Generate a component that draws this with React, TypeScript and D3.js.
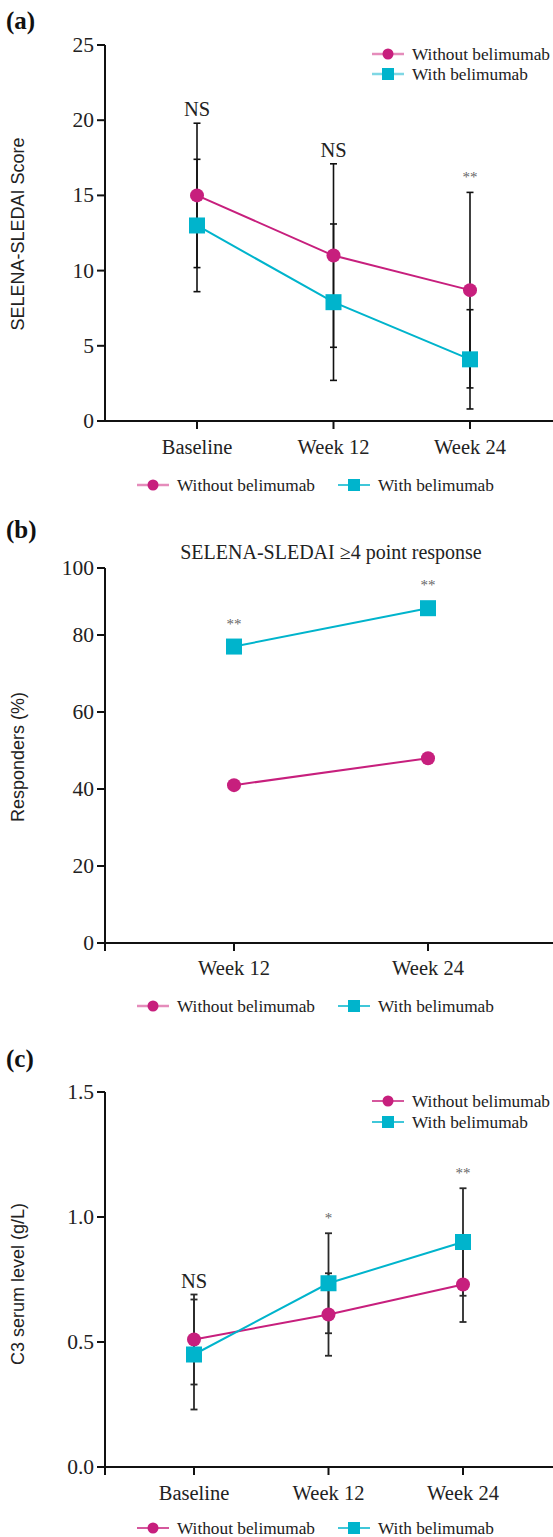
import React from "react";
import * as d3 from "d3";

// ---------- colours ----------
const MAGENTA = "#C71F7D";
const CYAN = "#00B4CC";
const MAGENTA_LIGHT = "#E58CBB";
const CYAN_LIGHT = "#7FD7E4";

// ---------- shared ----------
const seriesNames = ["Without belimumab", "With belimumab"];

// ---------- panel (a) ----------
const catsA = ["Baseline", "Week 12", "Week 24"];
const withoutMeanA = [15.0, 11.0, 8.7];
const withoutSdA = [4.8, 6.1, 6.5];
const withMeanA = [13.0, 7.9, 4.1];
const withSdA = [4.4, 5.2, 3.3];
const ticksA = [0, 5, 10, 15, 20, 25];
const sigA = ["NS", "NS", "**"];

// ---------- panel (b) ----------
const catsB = ["Week 12", "Week 24"];
const withoutB = [41, 48];
const withB = [77, 88];
const ticksB = [0, 20, 40, 60, 80, 100];
const sigBWith = ["**", "**"];

// ---------- panel (c) ----------
const catsC = ["Baseline", "Week 12", "Week 24"];
const withoutMeanC = [0.51, 0.61, 0.73];
const withoutSdC = [0.18, 0.165, 0.15];
const withMeanC = [0.45, 0.735, 0.9];
const withSdC = [0.22, 0.2, 0.215];
const ticksC = [0, 0.5, 1.0, 1.5];
const sigC = ["NS", "*", "**"];

const SERIF = "'Liberation Serif', 'Times New Roman', serif";
const SANS = "'Liberation Sans', Arial, sans-serif";

type Series = {
  mean: number[];
  sd?: number[];
  color: string;
  shape: "circle" | "square";
};

type Cfg = {
  label: string;
  labelY: number;
  cats: string[];
  xRange: [number, number];
  yScale: d3.ScaleLinear<number, number>;
  ticks: number[];
  fmt: (v: number) => string;
  yLabel: string;
  yLabelY: number;
  series: Series[];
  sig: string[];
  sigOnSeries?: number;
  title?: { text: string; y: number };
  legendTop?: { y0: number; dy: number; light: boolean };
  legendBottomY: number;
  bottomLight: [boolean, boolean];
  xLabelY: number;
  cornerTick: boolean;
  ebColor: string;
  ebWidth: number;
};

const AXIS_X = 105;
const RIGHT = 553;

function Marker({ shape, cx, cy, color, size }: { shape: string; cx: number; cy: number; color: string; size: number }) {
  if (shape === "circle") return <circle cx={cx} cy={cy} r={size / 2} fill={color} />;
  return <rect x={cx - size / 2} y={cy - size / 2} width={size} height={size} fill={color} />;
}

function LegendItem({ x, y, idx, light }: { x: number; y: number; idx: number; light: boolean }) {
  const color = idx === 0 ? MAGENTA : CYAN;
  const lc = light ? (idx === 0 ? MAGENTA_LIGHT : CYAN_LIGHT) : color;
  return (
    <g>
      <line x1={x} x2={x + 32} y1={y} y2={y} stroke={lc} strokeWidth={light ? 2.5 : 1.5} />
      <Marker shape={idx === 0 ? "circle" : "square"} cx={x + 16} cy={y} color={color} size={idx === 0 ? 11 : 12} />
      <text x={x + 40} y={y + 6} fontFamily={SERIF} fontSize={17.3} fill="#222">
        {seriesNames[idx]}
      </text>
    </g>
  );
}

function Panel({ cfg }: { cfg: Cfg }) {
  const x = d3.scalePoint<string>().domain(cfg.cats).range(cfg.xRange);
  const y = cfg.yScale;
  const y0 = y(0);
  const yTop = y(cfg.ticks[cfg.ticks.length - 1]);
  const line = (vals: number[]) =>
    d3
      .line<number>()
      .x((_, i) => x(cfg.cats[i]) as number)
      .y((d) => y(d))(vals) as string;

  return (
    <g>
      <text x={6} y={cfg.labelY} fontFamily={SERIF} fontWeight="bold" fontSize={25} fill="#111">
        {cfg.label}
      </text>
      {cfg.title && (
        <text x={331} y={cfg.title.y} textAnchor="middle" fontFamily={SERIF} fontSize={20} fill="#222">
          {cfg.title.text}
        </text>
      )}
      <text
        transform={`translate(24,${cfg.yLabelY}) rotate(-90)`}
        textAnchor="middle"
        fontFamily={SANS}
        fontSize={18}
        fill="#222"
      >
        {cfg.yLabel}
      </text>
      <line x1={AXIS_X} x2={AXIS_X} y1={yTop} y2={cfg.cornerTick ? y0 + 8 : y0} stroke="#111" strokeWidth={2} />
      <line x1={AXIS_X - 8} x2={RIGHT} y1={y0} y2={y0} stroke="#111" strokeWidth={2} />
      {cfg.ticks.map((t) => (
        <g key={t}>
          <line x1={AXIS_X - 8} x2={AXIS_X} y1={y(t)} y2={y(t)} stroke="#111" strokeWidth={2} />
          <text x={AXIS_X - 11} y={y(t) + 7} textAnchor="end" fontFamily={SERIF} fontSize={21.5} fill="#222">
            {cfg.fmt(t)}
          </text>
        </g>
      ))}
      {cfg.cats.map((c) => (
        <g key={c}>
          <line x1={x(c)} x2={x(c)} y1={y0} y2={y0 + 8} stroke="#111" strokeWidth={2} />
          <text x={x(c)} y={cfg.xLabelY} textAnchor="middle" fontFamily={SERIF} fontSize={20.5} fill="#222">
            {c}
          </text>
        </g>
      ))}
      {cfg.series.map((s, si) => (
        <path key={si} d={line(s.mean)} fill="none" stroke={s.color} strokeWidth={2} />
      ))}
      {cfg.series.map((s, si) =>
        s.sd
          ? s.mean.map((m, i) => {
              const cx = x(cfg.cats[i]) as number;
              const hi = y(m + s.sd![i]);
              const lo = y(m - s.sd![i]);
              return (
                <g key={`${si}-${i}`} stroke={cfg.ebColor} strokeWidth={cfg.ebWidth}>
                  <line x1={cx} x2={cx} y1={hi} y2={lo} />
                  <line x1={cx - 3.5} x2={cx + 3.5} y1={hi} y2={hi} />
                  <line x1={cx - 3.5} x2={cx + 3.5} y1={lo} y2={lo} />
                </g>
              );
            })
          : null
      )}
      {cfg.series.map((s, si) =>
        s.mean.map((m, i) => (
          <Marker
            key={`${si}-${i}`}
            shape={s.shape}
            cx={x(cfg.cats[i]) as number}
            cy={y(m)}
            color={s.color}
            size={s.shape === "circle" ? 14 : 16}
          />
        ))
      )}
      {cfg.sig.map((lab, i) => {
        if (!lab) return null;
        const cx = x(cfg.cats[i]) as number;
        let top: number;
        if (cfg.sigOnSeries !== undefined) {
          top = y(cfg.series[cfg.sigOnSeries].mean[i]) - 8;
        } else {
          top = d3.min(cfg.series, (s) => y(s.mean[i] + (s.sd ? s.sd[i] : 0))) as number;
        }
        return lab === "NS" ? (
          <text key={i} x={cx} y={top - 7} textAnchor="middle" fontFamily={SERIF} fontSize={20.5} fill="#222">
            {lab}
          </text>
        ) : (
          <text key={i} x={cx} y={top - 10} textAnchor="middle" fontFamily={SERIF} fontSize={15} fill="#666">
            {lab}
          </text>
        );
      })}
      {cfg.legendTop && (
        <g>
          <LegendItem x={372} y={cfg.legendTop.y0} idx={0} light={cfg.legendTop.light} />
          <LegendItem x={372} y={cfg.legendTop.y0 + cfg.legendTop.dy} idx={1} light={cfg.legendTop.light} />
        </g>
      )}
      <LegendItem x={137} y={cfg.legendBottomY} idx={0} light={cfg.bottomLight[0]} />
      <LegendItem x={338} y={cfg.legendBottomY} idx={1} light={cfg.bottomLight[1]} />
    </g>
  );
}

export default function App() {
  const cfgA: Cfg = {
    label: "(a)",
    labelY: 29,
    cats: catsA,
    xRange: [197, 470],
    yScale: d3.scaleLinear().domain([0, 25]).range([421, 45]),
    ticks: ticksA,
    fmt: d3.format("d"),
    yLabel: "SELENA-SLEDAI Score",
    yLabelY: 234,
    series: [
      { mean: withoutMeanA, sd: withoutSdA, color: MAGENTA, shape: "circle" },
      { mean: withMeanA, sd: withSdA, color: CYAN, shape: "square" },
    ],
    sig: sigA,
    legendTop: { y0: 54, dy: 20, light: true },
    legendBottomY: 485,
    bottomLight: [true, false],
    xLabelY: 454,
    cornerTick: false,
    ebColor: "#111",
    ebWidth: 1.6,
  };

  const cfgB: Cfg = {
    label: "(b)",
    labelY: 538,
    cats: catsB,
    xRange: [234, 428],
    yScale: d3.scaleLinear().domain([0, 80, 100]).range([943, 635, 568]),
    ticks: ticksB,
    fmt: d3.format("d"),
    yLabel: "Responders (%)",
    yLabelY: 757,
    series: [
      { mean: withoutB, color: MAGENTA, shape: "circle" },
      { mean: withB, color: CYAN, shape: "square" },
    ],
    sig: sigBWith,
    sigOnSeries: 1,
    title: { text: "SELENA-SLEDAI \u22654 point response", y: 559 },
    legendBottomY: 1006,
    bottomLight: [true, false],
    xLabelY: 975,
    cornerTick: true,
    ebColor: "#111",
    ebWidth: 1.6,
  };

  const cfgC: Cfg = {
    label: "(c)",
    labelY: 1067,
    cats: catsC,
    xRange: [194, 463],
    yScale: d3.scaleLinear().domain([0, 1.5]).range([1467, 1092]),
    ticks: ticksC,
    fmt: d3.format(".1f"),
    yLabel: "C3 serum level (g/L)",
    yLabelY: 1284,
    series: [
      { mean: withoutMeanC, sd: withoutSdC, color: MAGENTA, shape: "circle" },
      { mean: withMeanC, sd: withSdC, color: CYAN, shape: "square" },
    ],
    sig: sigC,
    legendTop: { y0: 1101, dy: 21, light: false },
    legendBottomY: 1528,
    bottomLight: [false, false],
    xLabelY: 1500,
    cornerTick: true,
    ebColor: "#2a2a2a",
    ebWidth: 1.8,
  };

  return (
    <svg width={553} height={1537} style={{ position: "absolute", left: 0, top: 0, background: "#fff" }}>
      <rect width={553} height={1537} fill="#fff" />
      <Panel cfg={cfgA} />
      <Panel cfg={cfgB} />
      <Panel cfg={cfgC} />
    </svg>
  );
}
